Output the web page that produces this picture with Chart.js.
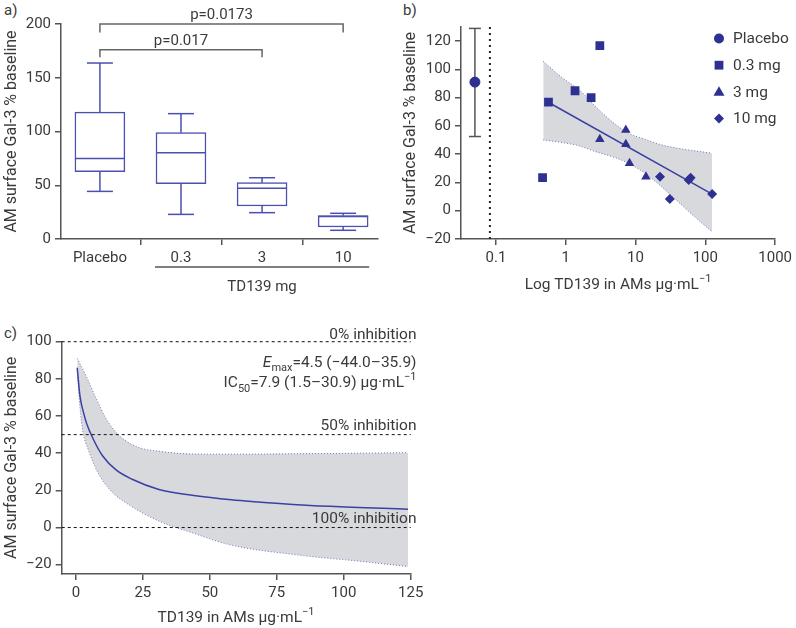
<!DOCTYPE html>
<html lang="en">
<head>
<meta charset="UTF-8">
<title>AM surface Gal-3 vs TD139</title>
<script src="https://cdn.jsdelivr.net/npm/chart.js"></script>
<style>
body{margin:0;background:#fff;width:796px;height:628px;position:relative;overflow:hidden;
     font-family:Roboto,Arial,sans-serif;color:#3a3a3a;}
canvas{position:absolute;}
#pa{left:0;top:0;}
#pb{left:400px;top:0;}
#pc{left:0;top:300px;}
.tag{position:absolute;font-size:15px;line-height:15px;}
</style>
</head>
<body>
<span class="tag" style="left:4px;top:3px">a)</span>
<span class="tag" style="left:403px;top:3px">b)</span>
<span class="tag" style="left:4px;top:326px">c)</span>

<canvas id="pa" width="400" height="300"></canvas>
<canvas id="pb" width="396" height="300"></canvas>
<canvas id="pc" width="430" height="328"></canvas>

<script>
Chart.defaults.animation=false;
Chart.defaults.responsive=false;
Chart.defaults.devicePixelRatio=1;
Chart.defaults.font.family="Roboto, 'DejaVu Sans', sans-serif";
Chart.defaults.font.size=15;
Chart.defaults.color="#3a3a3a";
Chart.defaults.plugins.legend.display=false;
Chart.defaults.plugins.tooltip.enabled=false;

const AXIS="#555", BOX="#4a4fb0", MARK="#2e3192", LINE="#3b40a3";
const BAND="#d8d9dc", BANDEDGE="#6d72c8";
const YTITLE="AM surface Gal-3 % baseline";

/* ── panel a: box plots ─────────────────────────────────────────── */
const boxCats=["Placebo","0.3","3","10"];
const boxMin=[44.3,22.9,24.5,8.1];
const boxQ1 =[62.6,51.5,30.7,11.2];
const boxMed=[75,80.3,47.1,21];
const boxQ3 =[118,98.9,52.4,21.9];
const boxMax=[163.7,116.6,57,23.9];
const sigPairs=[[0,2,176,169,"p=0.017"],[0,3,200,192,"p=0.0173"]];

/* ── panel b: scatter vs log concentration ──────────────────────── */
const placeboX=[0.05], placeboY=[91], placeboLo=[52.5], placeboHi=[129];
const dose03X=[0.466,0.566,1.36,2.31,3.08], dose03Y=[23.4,76.9,84.9,80.1,116.8];
const dose3X =[3.08,7.26,7.26,8.2,14.1],    dose3Y =[50.6,57.2,47.1,33.6,24.1];
const dose10X=[22.4,31,57.7,61.6,125],      dose10Y=[24.1,8.3,21.8,23.4,11.8];
const fitX=[0.57,125], fitY=[76.6,11.8];
const ciUpX=[0.476,0.9,1.55,2.67,4.6,7.9,13.7,23.6,40.7,125];
const ciUpY=[105.7,93.9,85.6,73.8,63.1,54.9,50.6,46.6,44.2,40.7];
const ciLoX=[0.476,0.9,1.55,2.67,4.6,7.9,13.7,23.6,40.7,70.3,125];
const ciLoY=[50.1,48.2,45.9,41.8,38.3,33.6,26.5,17,6.4,-4.3,-14.9];
const cutoffX=0.082;
const bTicksX=[0.1,1,10,100,1000];
const bTicksY=[-20,0,20,40,60,80,100,120];
const legendItems=[["Placebo","circle"],["0.3 mg","rect"],["3 mg","triangle"],["10 mg","diamond"]];

/* ── panel c: Emax model ────────────────────────────────────────── */
const curveX=[0.5,1.5,3,4,6.5,10,15,21,31,44,58,76,95,124];
const curveY=[86,71,61,56,47.5,38.5,31,26,20.5,17.3,15,13,11.4,9.9];
const cUpX=[0.5,4,7.7,11.5,15.8,22.7,31.4,43.8,61,90,124];
const cUpY=[91,81,69,58,50,43.5,41,39.6,39.5,39.8,40.3];
const cLoX=[0.5,1.5,2.7,4.6,7.7,12.7,18.9,31.4,43.8,57.5,82.4,107,124];
const cLoY=[84,65,51,42,31,20.3,13.1,3.2,-3,-9.3,-14.7,-18.3,-21];
const refLevels=[100,50,0];
const refLabels=["0% inhibition","50% inhibition","100% inhibition"];
const cTicksX=[0,25,50,75,100,125];
const cTicksY=[-20,0,20,40,60,80,100];

/* ── helpers ────────────────────────────────────────────────────── */
const pts=(xs,ys)=>xs.map((x,i)=>({x,y:ys[i]}));
const minus=v=>String(v).replace("-","\u2212");
const fam=()=>Chart.defaults.font.family;

function axisOpts(extra){
  return Object.assign({
    grid:{display:true,drawOnChartArea:false,drawTicks:true,tickLength:6,color:AXIS,lineWidth:1.5},
    border:{display:true,color:AXIS,width:1.5},
    ticks:{padding:4,color:"#3a3a3a",font:{size:15}}
  },extra);
}
function seg(ctx,x1,y1,x2,y2){ctx.beginPath();ctx.moveTo(x1,y1);ctx.lineTo(x2,y2);ctx.stroke();}

// text with italic / sub / sup pieces
function rich(ctx,parts,x,y,align,size){
  const f=m=>(m==="i"?"italic ":"")+((m==="sub"||m==="sup")?Math.round(size*0.72):size)+"px "+fam();
  let w=0;
  parts.forEach(p=>{ctx.font=f(p[1]);w+=ctx.measureText(p[0]).width;});
  let cx=align==="right"?x-w:align==="center"?x-w/2:x;
  ctx.textAlign="left";ctx.textBaseline="alphabetic";ctx.fillStyle="#3a3a3a";
  parts.forEach(p=>{
    ctx.font=f(p[1]);
    const dy=p[1]==="sub"?size*0.3:p[1]==="sup"?-size*0.45:0;
    ctx.fillText(p[0],cx,y+dy);
    cx+=ctx.measureText(p[0]).width;
  });
}

function shape(ctx,kind,x,y,r){
  ctx.beginPath();
  if(kind==="circle") ctx.arc(x,y,r,0,Math.PI*2);
  else if(kind==="rect") ctx.rect(x-r,y-r,2*r,2*r);
  else if(kind==="triangle"){ctx.moveTo(x,y-r*1.15);ctx.lineTo(x+r*1.1,y+r*0.75);ctx.lineTo(x-r*1.1,y+r*0.75);ctx.closePath();}
  else {ctx.moveTo(x,y-r);ctx.lineTo(x+r,y);ctx.lineTo(x,y+r);ctx.lineTo(x-r,y);ctx.closePath();}
  ctx.fill();
}

/* ── panel a ────────────────────────────────────────────────────── */
const boxPlugin={
  id:"boxes",
  afterDatasetsDraw(ch){
    const {ctx,scales:{x,y}}=ch;
    ctx.save();ctx.strokeStyle=BOX;ctx.lineWidth=1.5;
    boxCats.forEach((c,i)=>{
      const px=x.getPixelForValue(i);
      seg(ctx,px-25,y.getPixelForValue(boxMed[i]),px+25,y.getPixelForValue(boxMed[i]));
      seg(ctx,px,y.getPixelForValue(boxQ3[i]),px,y.getPixelForValue(boxMax[i]));
      seg(ctx,px-13,y.getPixelForValue(boxMax[i]),px+13,y.getPixelForValue(boxMax[i]));
      seg(ctx,px,y.getPixelForValue(boxQ1[i]),px,y.getPixelForValue(boxMin[i]));
      seg(ctx,px-13,y.getPixelForValue(boxMin[i]),px+13,y.getPixelForValue(boxMin[i]));
    });
    ctx.restore();
  },
  afterDraw(ch){
    const {ctx,scales:{x,y}}=ch;
    ctx.save();ctx.strokeStyle="#666";ctx.lineWidth=1.5;
    sigPairs.forEach(([a,b,lvl,foot,txt])=>{
      const xa=x.getPixelForValue(a), xb=x.getPixelForValue(b);
      const yl=y.getPixelForValue(lvl), yf=y.getPixelForValue(foot);
      ctx.beginPath();ctx.moveTo(xa,yf);ctx.lineTo(xa,yl);ctx.lineTo(xb,yl);ctx.lineTo(xb,yf);ctx.stroke();
      ctx.fillStyle="#3a3a3a";ctx.font="15px "+fam();ctx.textAlign="center";ctx.textBaseline="alphabetic";
      ctx.fillText(txt,(xa+xb)/2,yl-5);
    });
    // dose group bracket under the x labels
    const x1=x.getPixelForValue(1)-26, x2=x.getPixelForValue(3)+26;
    ctx.strokeStyle=AXIS;seg(ctx,x1,267,x2,267);
    ctx.fillStyle="#3a3a3a";ctx.font="15px "+fam();ctx.textAlign="center";
    ctx.fillText("TD139 mg",x.getPixelForValue(2),291);
    ctx.restore();
  }
};

new Chart(document.getElementById("pa"),{
  type:"bar",
  data:{datasets:[{
    data:boxCats.map((c,i)=>({x:i,y:[boxQ1[i],boxQ3[i]]})),
    backgroundColor:"#fff",borderColor:BOX,borderWidth:1.5,borderSkipped:false,barThickness:50
  }]},
  options:{
    layout:{padding:{left:0,top:24,right:22,bottom:0}},
    scales:{
      x:axisOpts({type:"linear",min:-0.48,max:3.43,offset:false,
        afterBuildTicks:s=>{s.ticks=boxCats.map((c,i)=>({value:i}));},
        afterFit:s=>{s.height=61;},
        ticks:{padding:4,color:"#3a3a3a",font:{size:15},callback:v=>boxCats[v]}}),
      y:axisOpts({min:0,max:200,
        afterBuildTicks:s=>{s.ticks=[0,50,100,150,200].map(v=>({value:v}));},
        afterFit:s=>{s.width=61;},
        title:{display:true,text:YTITLE,padding:{top:2,bottom:0},font:{size:16}}})
    }
  },
  plugins:[boxPlugin]
});

/* ── panel b ────────────────────────────────────────────────────── */
const bPlugin={
  id:"bExtras",
  beforeDatasetsDraw(ch){
    const {ctx,scales:{x,y}}=ch;
    ctx.save();ctx.strokeStyle=AXIS;ctx.lineWidth=1.5;
    placeboX.forEach((v,i)=>{
      const px=x.getPixelForValue(v), lo=y.getPixelForValue(placeboLo[i]), hi=y.getPixelForValue(placeboHi[i]);
      seg(ctx,px,lo,px,hi);seg(ctx,px-6,lo,px+6,lo);seg(ctx,px-6,hi,px+6,hi);
    });
    ctx.restore();
  },
  afterDraw(ch){
    const ctx=ch.ctx;
    ctx.save();
    legendItems.forEach(([txt,kind],i)=>{
      const ly=38.5+i*26.7;
      ctx.fillStyle=MARK;shape(ctx,kind,319,ly,kind==="circle"?5:kind==="rect"?4.4:5);
      ctx.fillStyle="#3a3a3a";ctx.font="15.5px "+fam();ctx.textAlign="left";ctx.textBaseline="middle";
      ctx.fillText(txt,333,ly+1);
    });
    rich(ctx,[["Log TD139 in AMs \u03bcg\u00b7mL",""],["\u22121","sup"]],218,289,"center",15.5);
    ctx.restore();
  }
};

new Chart(document.getElementById("pb"),{
  type:"scatter",
  data:{datasets:[
    {type:"line",data:pts(ciUpX,ciUpY),fill:"+1",backgroundColor:BAND,borderColor:BANDEDGE,borderWidth:1,
     borderDash:[1,2],pointRadius:0,cubicInterpolationMode:"monotone",order:5},
    {type:"line",data:pts(ciLoX,ciLoY),fill:false,borderColor:BANDEDGE,borderWidth:1,
     borderDash:[1,2],pointRadius:0,cubicInterpolationMode:"monotone",order:4},
    {type:"line",data:pts(fitX,fitY),borderColor:LINE,borderWidth:1.5,pointRadius:0,fill:false,order:3},
    {type:"line",data:[{x:cutoffX,y:-20},{x:cutoffX,y:130}],borderColor:"#222",borderWidth:2,
     borderDash:[2,4],pointRadius:0,fill:false,order:3},
    {data:pts(placeboX,placeboY),pointStyle:"circle",pointRadius:5,backgroundColor:MARK,borderColor:MARK,order:0},
    {data:pts(dose03X,dose03Y),pointStyle:"rect",pointRadius:6.2,backgroundColor:MARK,borderColor:MARK,borderWidth:0,order:0},
    {data:pts(dose3X,dose3Y),pointStyle:"triangle",pointRadius:5.5,backgroundColor:MARK,borderColor:MARK,borderWidth:0,order:0},
    {data:pts(dose10X,dose10Y),pointStyle:"rectRot",pointRadius:5,backgroundColor:MARK,borderColor:MARK,borderWidth:0,order:0}
  ]},
  options:{
    layout:{padding:{left:0,top:27,right:18,bottom:0}},
    scales:{
      x:axisOpts({type:"logarithmic",min:0.0316,max:1000,
        afterBuildTicks:s=>{s.ticks=bTicksX.map(v=>({value:v}));},
        afterFit:s=>{s.height=61;},
        ticks:{padding:4,color:"#3a3a3a",font:{size:15},callback:v=>String(v)}}),
      y:axisOpts({min:-20,max:130,
        afterBuildTicks:s=>{s.ticks=bTicksY.map(v=>({value:v}));},
        afterFit:s=>{s.width=61;},
        ticks:{padding:4,color:"#3a3a3a",font:{size:15},callback:v=>minus(v)},
        title:{display:true,text:YTITLE,padding:{top:1,bottom:0},font:{size:16}}})
    }
  },
  plugins:[bPlugin]
});

/* ── panel c ────────────────────────────────────────────────────── */
const cPlugin={
  id:"cText",
  afterDraw(ch){
    const ctx=ch.ctx;
    ctx.save();
    const base=[38.5,129.5,222.5];
    refLabels.forEach((t,i)=>rich(ctx,[[t,""]],416.5,base[i],"right",15.5));
    rich(ctx,[["E","i"],["max","sub"],["=4.5 (\u221244.0\u201335.9)",""]],416.5,66.5,"right",15.5);
    rich(ctx,[["IC",""],["50","sub"],["=7.9 (1.5\u201330.9) \u03bcg\u00b7mL",""],["\u22121","sup"]],416.5,87,"right",15.5);
    rich(ctx,[["TD139 in AMs \u03bcg\u00b7mL",""],["\u22121","sup"]],236,322,"center",15.5);
    ctx.restore();
  }
};

new Chart(document.getElementById("pc"),{
  type:"scatter",
  data:{datasets:[
    ...refLevels.map(v=>({type:"line",data:[{x:-5.3,y:v},{x:125,y:v}],borderColor:"#111",borderWidth:1,
      borderDash:[3,3],pointRadius:0,fill:false,clip:false,order:0})),
    {type:"line",data:pts(curveX,curveY),borderColor:LINE,borderWidth:1.5,pointRadius:0,fill:false,
     cubicInterpolationMode:"monotone",order:1},
    {type:"line",data:pts(cUpX,cUpY),fill:"+1",backgroundColor:BAND,borderColor:BANDEDGE,borderWidth:1,
     borderDash:[1,2],pointRadius:0,cubicInterpolationMode:"monotone",order:5},
    {type:"line",data:pts(cLoX,cLoY),fill:false,borderColor:BANDEDGE,borderWidth:1,
     borderDash:[1,2],pointRadius:0,cubicInterpolationMode:"monotone",order:4}
  ]},
  options:{
    layout:{padding:{left:0,top:41.7,right:19.3,bottom:0}},
    scales:{
      x:axisOpts({min:-5.3,max:125,
        afterBuildTicks:s=>{s.ticks=cTicksX.map(v=>({value:v}));},
        afterFit:s=>{s.height=54;}}),
      y:axisOpts({min:-25,max:100,
        afterBuildTicks:s=>{s.ticks=cTicksY.map(v=>({value:v}));},
        afterFit:s=>{s.width=61.7;},
        ticks:{padding:4,color:"#3a3a3a",font:{size:15},callback:v=>minus(v)},
        title:{display:true,text:YTITLE,padding:{top:2,bottom:0},font:{size:16}}})
    }
  },
  plugins:[cPlugin]
});
</script>
</body>
</html>
